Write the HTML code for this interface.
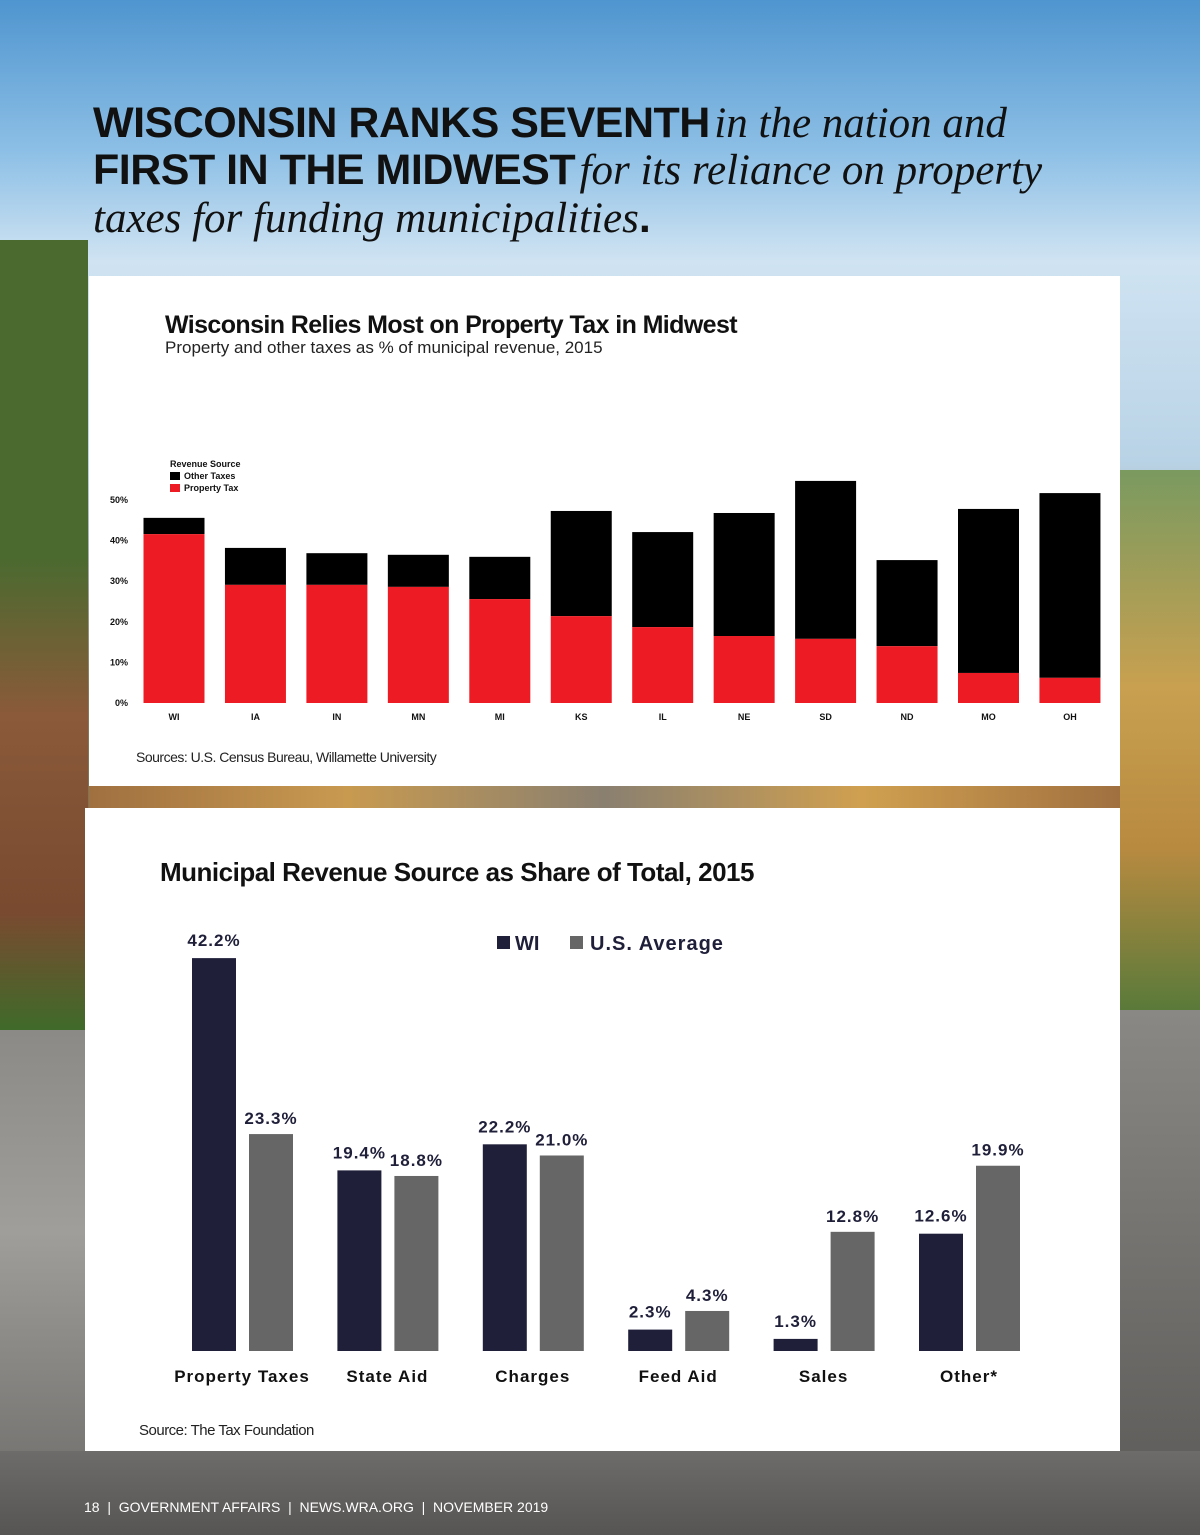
<!DOCTYPE html>
<html><head><meta charset="utf-8"><style>
body{margin:0;width:1200px;height:1535px;position:relative;overflow:hidden;font-family:"Liberation Sans",sans-serif;
background:linear-gradient(180deg,#4f95cf 0%,#8ec0e6 10%,#cfe3f2 17%,#b9d3e6 30%,#8a7a5a 45%,#6f6a55 62%,#7a7670 72%,#5c5a58 100%);}
.side{position:absolute;}
.hl{position:absolute;left:93px;white-space:nowrap;color:#111;line-height:1}
.b{font-weight:bold;font-size:43px;letter-spacing:-0.5px}
.i{font-family:'Liberation Serif',serif;font-style:italic;font-size:43px}
</style></head><body>
<div class="side" style="left:0;top:240px;width:88px;height:790px;background:linear-gradient(180deg,#4a6a30,#4a6a30 40%,#8a5a3a 60%,#7a4a30 85%,#3f6a2a)"></div>
<div class="side" style="left:0;top:1030px;width:85px;height:505px;background:linear-gradient(180deg,#8c8a86,#a09e9a 40%,#6a6866)"></div>
<div class="side" style="left:1120px;top:470px;width:80px;height:540px;background:linear-gradient(180deg,#7a9a60,#c8a050 40%,#b88a40 70%,#5a7a3a)"></div>
<div class="side" style="left:1120px;top:1010px;width:80px;height:525px;background:linear-gradient(180deg,#8a8884,#5a5856)"></div>
<div class="side" style="left:0;top:1451px;width:1200px;height:84px;background:linear-gradient(180deg,#6e6c6a,#575553)"></div>
<div class="side" style="left:89px;top:786px;width:1031px;height:22px;background:linear-gradient(90deg,#a07040,#c89a50,#8a8070,#d0a050,#a07040)"></div>

<div>
<div class="hl" style="top:102px"><span class="b">WISCONSIN RANKS SEVENTH</span> <span class="i">in the nation and</span></div>
<div class="hl" style="top:149px"><span class="b">FIRST IN THE MIDWEST</span> <span class="i">for its reliance on property</span></div>
<div class="hl" style="top:197px"><span class="i">taxes for funding municipalities</span><span class="b">.</span></div>
</div>

<div style="position:absolute;left:89px;top:276px;width:1031px;height:510px;background:#fff"></div>
<div style="position:absolute;left:85px;top:808px;width:1035px;height:643px;background:#fff"></div>

<svg width="1200" height="1535" style="position:absolute;left:0;top:0">
<text x="165" y="333" font-size="25" font-weight="bold" fill="#111" letter-spacing="-0.6">Wisconsin Relies Most on Property Tax in Midwest</text>
<text x="165" y="353" font-size="17" fill="#222">Property and other taxes as % of municipal revenue, 2015</text>
<g font-size="9" font-weight="bold" fill="#111">
<text x="170" y="467">Revenue Source</text>
<rect x="170" y="472" width="10" height="8" fill="#000"/><text x="184" y="479">Other Taxes</text>
<rect x="170" y="484" width="10" height="8" fill="#ed1c24"/><text x="184" y="491">Property Tax</text>
</g>
<g id="topg"></g>
<text x="136" y="762" font-size="14" fill="#222" letter-spacing="-0.5">Sources: U.S. Census Bureau, Willamette University</text>

<text x="160" y="881" font-size="26" font-weight="bold" fill="#111" letter-spacing="-0.5">Municipal Revenue Source as Share of Total, 2015</text>
<g font-size="20" font-weight="bold">
<rect x="497" y="936" width="13" height="13" fill="#1f1f3a"/><text x="515" y="950" fill="#1f1f3a">WI</text>
<rect x="570" y="936" width="13" height="13" fill="#666"/><text x="590" y="950" fill="#1f1f3a" letter-spacing="1">U.S. Average</text>
</g>
<g id="botg"></g>
<text x="139" y="1435" font-size="15" fill="#222" letter-spacing="-0.5">Source: The Tax Foundation</text>
<text x="84" y="1512" font-size="14" fill="#fff" xml:space="preserve">18  |  GOVERNMENT AFFAIRS  |  NEWS.WRA.ORG  |  NOVEMBER 2019</text>
</svg>
<script>
const states=["WI","IA","IN","MN","MI","KS","IL","NE","SD","ND","MO","OH"];
const totalTax=[45.6,38.2,36.9,36.5,36.0,47.3,42.1,46.8,54.7,35.2,47.8,51.7];
const propTax=[41.6,29.1,29.1,28.6,25.6,21.4,18.7,16.5,15.8,14.0,7.4,6.2];
const yTicks=[0,10,20,30,40,50];
const cats=["Property Taxes","State Aid","Charges","Feed Aid","Sales","Other*"];
const wiVals=[42.2,19.4,22.2,2.3,1.3,12.6];
const usVals=[23.3,18.8,21.0,4.3,12.8,19.9];
const NS="http://www.w3.org/2000/svg";
function mk(p,t,a,txt){const e=document.createElementNS(NS,t);for(const k in a)e.setAttribute(k,a[k]);if(txt!=null)e.textContent=txt;p.appendChild(e);return e;}
const topG=document.getElementById('topg');
const ty=v=>703-v*4.06, tx=i=>174+i*81.45;
yTicks.forEach(v=>{const t=mk(topG,'text',{x:128,y:ty(v)+3,'font-size':9,'font-weight':'bold','text-anchor':'end',fill:'#111'},v+'%');

});
states.forEach((s,i)=>{
const o=mk(topG,'rect',{x:tx(i)-30.5,y:ty(totalTax[i]),width:61,height:ty(propTax[i])-ty(totalTax[i]),fill:'#000'});


const p=mk(topG,'rect',{x:tx(i)-30.5,y:ty(propTax[i]),width:61,height:703-ty(propTax[i]),fill:'#ed1c24'});


const l=mk(topG,'text',{x:tx(i),y:720,'font-size':9,'font-weight':'bold','text-anchor':'middle',fill:'#111'},s);

});
const botG=document.getElementById('botg');
const by=v=>1351-v*9.31, bx=i=>242+i*145.4;
cats.forEach((c,i)=>{
const w=mk(botG,'rect',{x:bx(i)-50,y:by(wiVals[i]),width:44,height:1351-by(wiVals[i]),fill:'#1f1f3a'});


const u=mk(botG,'rect',{x:bx(i)+7,y:by(usVals[i]),width:44,height:1351-by(usVals[i]),fill:'#666'});


const a=mk(botG,'text',{x:bx(i)-28,y:by(wiVals[i])-12,'font-size':17,'font-weight':'bold','text-anchor':'middle',fill:'#1f1f3a','letter-spacing':1},wiVals[i].toFixed(1)+'%');


const b=mk(botG,'text',{x:bx(i)+29,y:by(usVals[i])-10,'font-size':17,'font-weight':'bold','text-anchor':'middle',fill:'#1f1f3a','letter-spacing':1},usVals[i].toFixed(1)+'%');


const l=mk(botG,'text',{x:bx(i),y:1382,'font-size':17,'font-weight':'bold','text-anchor':'middle',fill:'#111','letter-spacing':1},c);

});
</script>
</body></html>
